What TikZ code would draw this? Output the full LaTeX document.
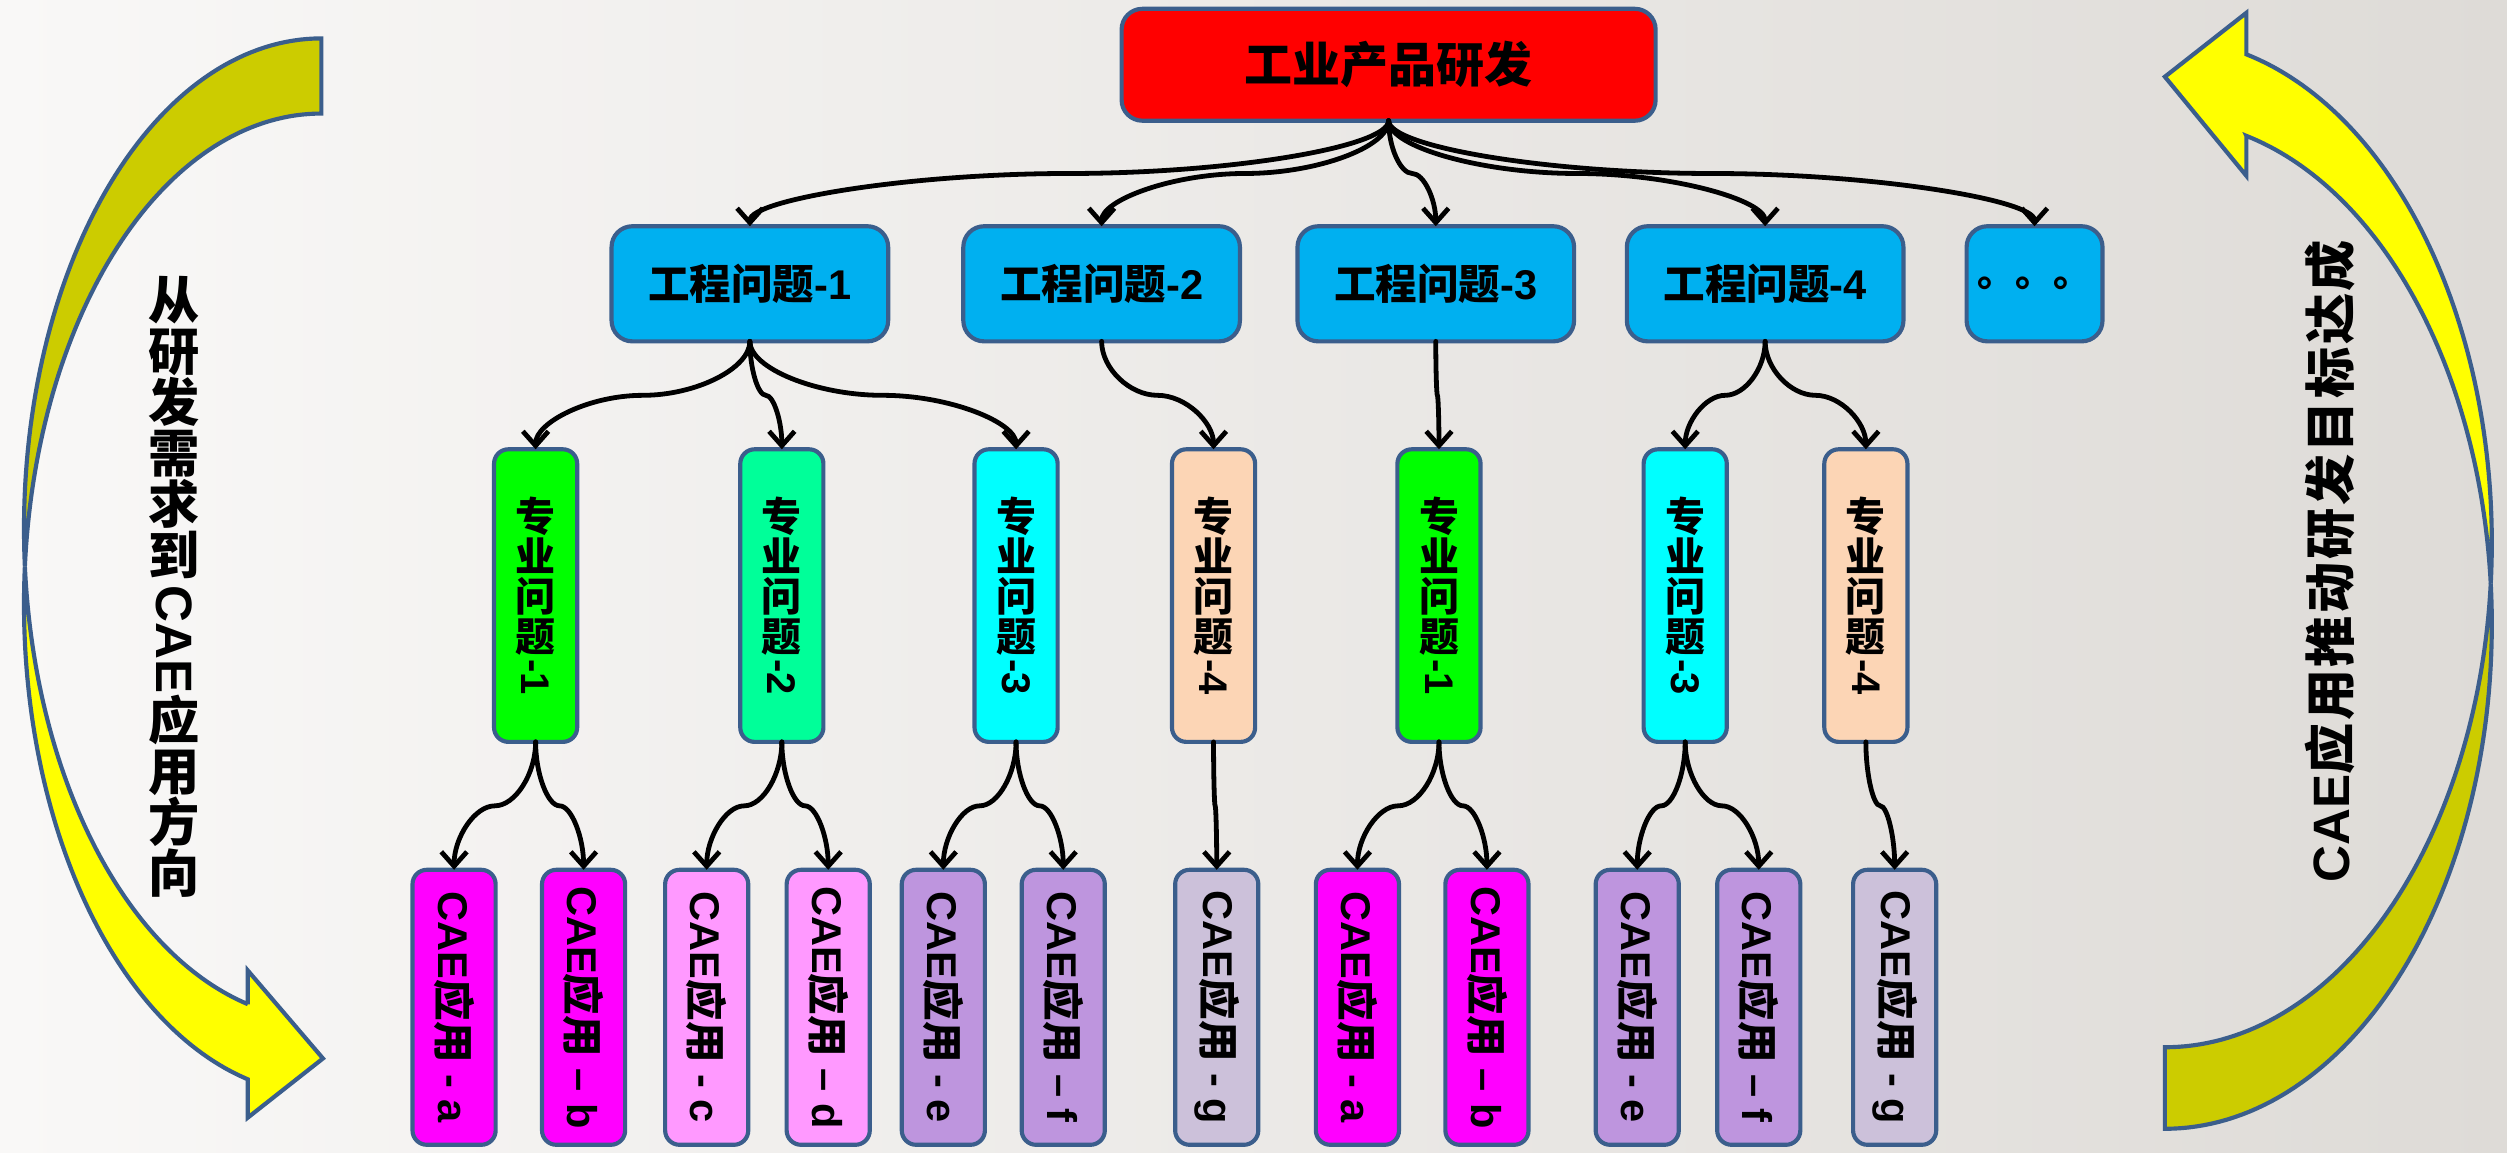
\documentclass[tikz,border=0pt]{standalone}
\usepackage{fontspec}
\usepackage{graphicx}
\setmainfont{Liberation Sans}
\newfontfamily\lat{Liberation Sans}
\newfontfamily\cjk{Noto Sans CJK SC}
\newfontfamily\cjksp{Noto Sans CJK SC}[LetterSpace=5]
\usetikzlibrary{arrows.meta,calc}
\definecolor{bord}{HTML}{3B5E8C}
\definecolor{bgL}{HTML}{F9F8F7}
\definecolor{bgR}{HTML}{DEDBD7}
\definecolor{cblue}{HTML}{00B0F0}
\definecolor{cgreen}{HTML}{00FF00}
\definecolor{cspring}{HTML}{00FF99}
\definecolor{ccyan}{HTML}{00FFFF}
\definecolor{cpeach}{HTML}{FCD5B5}
\definecolor{cmag}{HTML}{FF00FF}
\definecolor{cpink}{HTML}{FF99FF}
\definecolor{clav}{HTML}{BE95DE}
\definecolor{cgrey}{HTML}{CCC1DA}
\definecolor{ydark}{HTML}{CCCC00}
\definecolor{ybright}{HTML}{FFFF00}
\newcommand\vlat[1]{\raisebox{0.8em}{\rotatebox{-90}{\lat\bfseries #1}}}
\newcommand\conn[2]{%
  \draw[conn] let \p1=(#1.south), \p2=(#2.north) in
  (\p1) .. controls (\x1,{(\y1)+0.25*((\y2)-(\y1))}) and ({(\x1)+0.25*((\x2)-(\x1))},{0.5*((\y1)+(\y2))})
  .. ({0.5*((\x1)+(\x2))},{0.5*((\y1)+(\y2))})
  .. controls ({(\x1)+0.75*((\x2)-(\x1))},{0.5*((\y1)+(\y2))}) and (\x2,{(\y1)+0.75*((\y2)-(\y1))})
  .. (\p2);}
\tikzset{
  box/.style={draw=bord, line width=2.6pt, rounded corners=#1, inner sep=0pt, outer sep=0pt},
  box/.default=10pt,
  topbox/.style={box=13pt, fill=red, minimum width=334pt, minimum height=70pt,
    font=\cjk\bfseries\fontsize{30}{30}\selectfont},
  engbox/.style={box=13pt, fill=cblue, minimum width=173pt, minimum height=72pt,
    font=\lat\bfseries\fontsize{26}{26}\selectfont},
  probox/.style={box=9pt, fill=#1, minimum width=52pt, minimum height=183pt, align=center,
    font=\cjk\bfseries\fontsize{25}{25}\selectfont},
  caebox/.style={box=9pt, fill=#1, minimum width=52pt, minimum height=172pt},
  caetxt/.style={rotate=-90, inner sep=0pt, font=\lat\bfseries\fontsize{26}{26}\selectfont},
  conn/.style={draw=black, line width=3pt, line cap=round, -{Straight Barb[length=9pt,width=16pt]}},
  bigarrow/.style={draw=bord, line width=2.6pt, line join=miter},
}
\begin{document}
\begin{tikzpicture}[x=1pt,y=-1pt]
\shade[left color=bgL, right color=bgR] (0,0) rectangle (1568,721);
\useasboundingbox (0,0) rectangle (1568,721);
% left curved arrow
\filldraw[bigarrow, fill=ydark]
  plot[domain=270:175.61, samples=70, variable=\t] ({201+186*cos(\t)},{330.8+306.8*sin(\t)})
  -- plot[domain=184.39:270, samples=70, variable=\t] ({201+186*cos(\t)},{377.8+306.8*sin(\t)})
  -- cycle;
\filldraw[bigarrow, fill=ybright]
  plot[domain=184.39:104.32, samples=70, variable=\t] ({201+186*cos(\t)},{377.8+306.8*sin(\t)})
  -- (155,699) -- (202,662) -- (155,607) -- (155,628.1)
  -- plot[domain=104.32:175.61, samples=70, variable=\t] ({201+186*cos(\t)},{330.8+306.8*sin(\t)})
  -- cycle;
% right curved arrow
\filldraw[bigarrow, fill=ydark]
  plot[domain=90:-4.64, samples=70, variable=\t] ({1354+204.5*cos(\t)},{390.5+315.5*sin(\t)})
  -- plot[domain=4.64:90, samples=70, variable=\t] ({1354+204.5*cos(\t)},{339.5+315.5*sin(\t)})
  -- cycle;
\filldraw[bigarrow, fill=ybright]
  plot[domain=4.64:-75.56, samples=70, variable=\t] ({1354+204.5*cos(\t)},{339.5+315.5*sin(\t)})
  -- (1405,8) -- (1354,48) -- (1405,110) -- (1405,85)
  -- plot[domain=-75.56:-4.64, samples=70, variable=\t] ({1354+204.5*cos(\t)},{390.5+315.5*sin(\t)})
  -- cycle;
% side texts
\node[align=center, inner sep=0pt, font=\cjk\bfseries\fontsize{32}{32}\selectfont] (ltxt) at (109,367)
  {从\\研\\发\\需\\求\\到\\\vlat{CAE}\\应\\用\\方\\向};
\node[rotate=90, inner sep=0pt, font=\lat\bfseries\fontsize{32}{32}\selectfont] (rtxt) at (1457,351)
  {CAE{\cjksp 应用推动研发目标达成}};
% top
\node[topbox] (top) at (868.5,40.5) {工业产品研发};
% level 2
\node[engbox] (e1) at (469,177.5) {{\cjk 工程问题}-1};
\node[engbox] (e2) at (689,177.5) {{\cjk 工程问题}-2};
\node[engbox] (e3) at (898,177.5) {{\cjk 工程问题}-3};
\node[engbox] (e4) at (1104,177.5) {{\cjk 工程问题}-4};
\node[engbox, minimum width=85pt, font=\cjk\bfseries\fontsize{24}{24}\selectfont] (e5) at (1272.5,177.5) {。。。};
% level 3
\node[probox=cgreen]  (p1) at (335,372.5)  {专\\业\\问\\题\\\vlat{-1}};
\node[probox=cspring] (p2) at (489,372.5)  {专\\业\\问\\题\\\vlat{-2}};
\node[probox=ccyan]   (p3) at (635.5,372.5){专\\业\\问\\题\\\vlat{-3}};
\node[probox=cpeach]  (p4) at (759,372.5)  {专\\业\\问\\题\\\vlat{-4}};
\node[probox=cgreen]  (p5) at (900,372.5)  {专\\业\\问\\题\\\vlat{-1}};
\node[probox=ccyan]   (p6) at (1054,372.5) {专\\业\\问\\题\\\vlat{-3}};
\node[probox=cpeach]  (p7) at (1167,372.5) {专\\业\\问\\题\\\vlat{-4}};
% level 4
\node[caebox=cmag]  (a1)  at (284,630)  {};
\node[caebox=cmag]  (a2)  at (365,630)  {};
\node[caebox=cpink] (a3)  at (442,630)  {};
\node[caebox=cpink] (a4)  at (518,630)  {};
\node[caebox=clav]  (a5)  at (590,630)  {};
\node[caebox=clav]  (a6)  at (665,630)  {};
\node[caebox=cgrey] (a7)  at (761,630)  {};
\node[caebox=cmag]  (a8)  at (849,630)  {};
\node[caebox=cmag]  (a9)  at (930,630)  {};
\node[caebox=clav]  (a10) at (1024,630) {};
\node[caebox=clav]  (a11) at (1100,630) {};
\node[caebox=cgrey] (a12) at (1185,630) {};
\node[caetxt] (t1)  at (a1)  {CAE{\cjk 应用} - a};
\node[caetxt] (t2)  at (a2)  {CAE{\cjk 应用} – b};
\node[caetxt] (t3)  at (a3)  {CAE{\cjk 应用} - c};
\node[caetxt] (t4)  at (a4)  {CAE{\cjk 应用} – d};
\node[caetxt] (t5)  at (a5)  {CAE{\cjk 应用} - e};
\node[caetxt] (t6)  at (a6)  {CAE{\cjk 应用} – f};
\node[caetxt] (t7)  at (a7)  {CAE{\cjk 应用} - g};
\node[caetxt] (t8)  at (a8)  {CAE{\cjk 应用} - a};
\node[caetxt] (t9)  at (a9)  {CAE{\cjk 应用} – b};
\node[caetxt] (t10) at (a10) {CAE{\cjk 应用} - e};
\node[caetxt] (t11) at (a11) {CAE{\cjk 应用} – f};
\node[caetxt] (t12) at (a12) {CAE{\cjk 应用} - g};
% connectors
\conn{top}{e1}\conn{top}{e2}\conn{top}{e3}\conn{top}{e4}\conn{top}{e5}
\conn{e1}{p1}\conn{e1}{p2}\conn{e1}{p3}\conn{e2}{p4}\conn{e3}{p5}\conn{e4}{p6}\conn{e4}{p7}
\conn{p1}{a1}\conn{p1}{a2}\conn{p2}{a3}\conn{p2}{a4}\conn{p3}{a5}\conn{p3}{a6}
\conn{p4}{a7}\conn{p5}{a8}\conn{p5}{a9}\conn{p6}{a10}\conn{p6}{a11}\conn{p7}{a12}
\end{tikzpicture}
\end{document}
